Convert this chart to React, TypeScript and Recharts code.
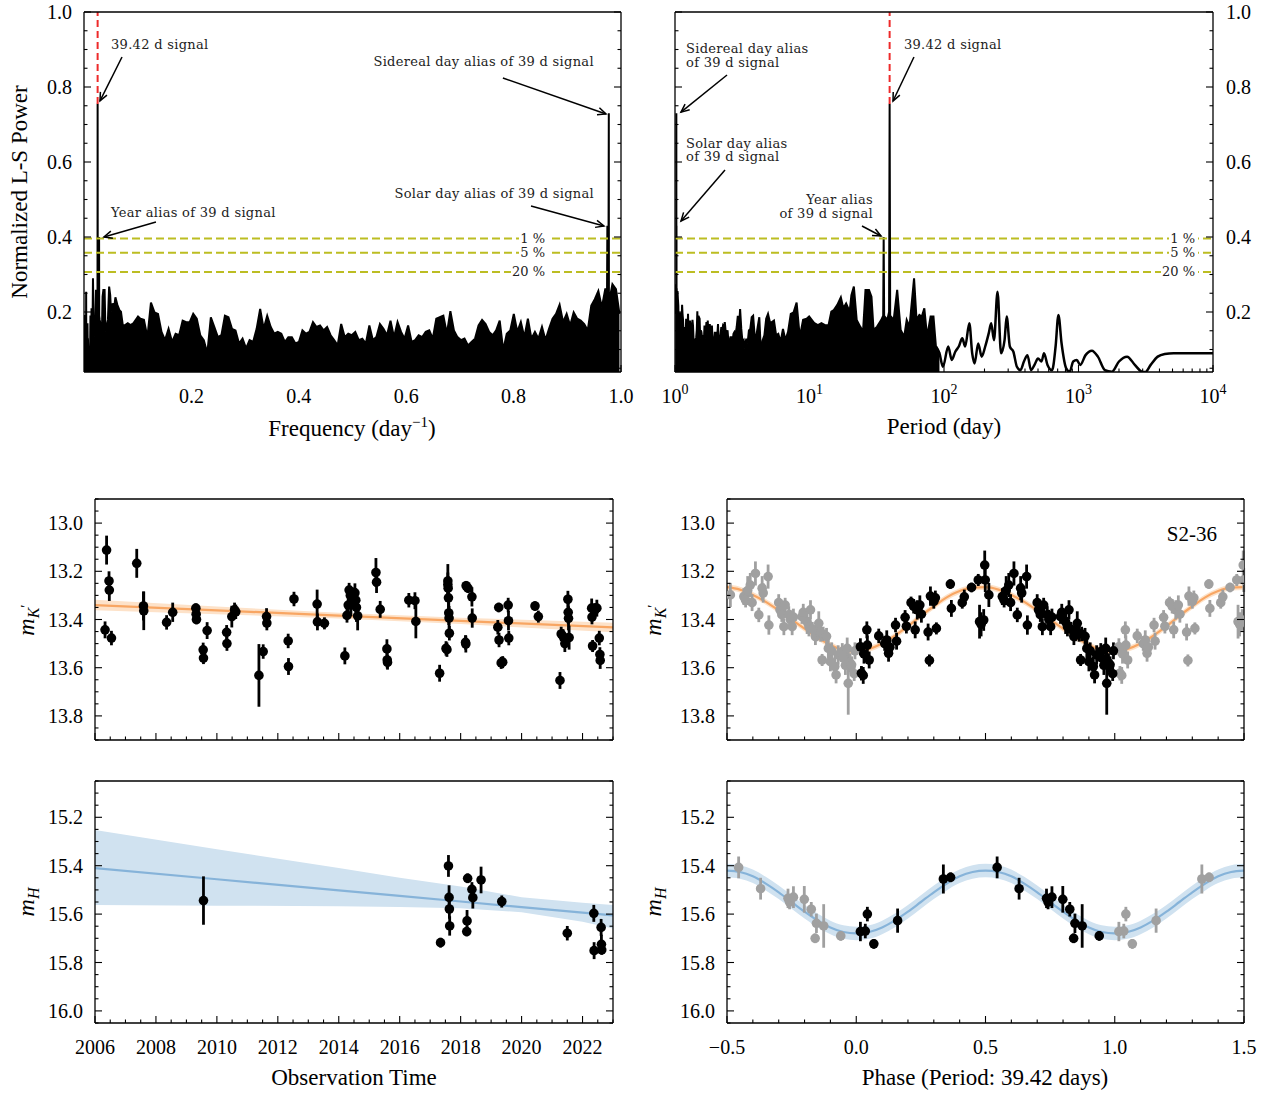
import React from 'react'
import { ComposedChart, XAxis, YAxis, Area, Line, Scatter, ErrorBar, ReferenceLine } from 'recharts'

const W = 1273
const H = 1093
const SERIF = '"Liberation Serif", "Times New Roman", serif'
const NOTE_FONT = '"DejaVu Serif", serif'

// ---------- Lomb-Scargle periodogram ----------
// power above 0.1 / day, read every ~0.0066 / day from the frequency panel
const denseFreqStart = 0.105
const denseFreqStep = 0.00656
const densePower = [
  0.182, 0.179, 0.133, 0.225, 0.199, 0.195, 0.147, 0.125, 0.155, 0.12,
  0.142, 0.138, 0.177, 0.173, 0.173, 0.195, 0.182, 0.138, 0.125, 0.09,
  0.186, 0.16, 0.133, 0.138, 0.19, 0.186, 0.155, 0.151, 0.116, 0.129,
  0.103, 0.125, 0.12, 0.155, 0.208, 0.155, 0.19, 0.16, 0.142, 0.147,
  0.142, 0.12, 0.133, 0.133, 0.116, 0.12, 0.151, 0.142, 0.147, 0.173,
  0.16, 0.164, 0.151, 0.16, 0.138, 0.125, 0.111, 0.168, 0.133, 0.142,
  0.138, 0.147, 0.125, 0.129, 0.116, 0.164, 0.125, 0.133, 0.168, 0.155,
  0.138, 0.177, 0.133, 0.173, 0.147, 0.129, 0.164, 0.12, 0.125, 0.138,
  0.133, 0.147, 0.151, 0.129, 0.182, 0.186, 0.19, 0.142, 0.202, 0.151,
  0.133, 0.125, 0.129, 0.111, 0.12, 0.129, 0.164, 0.179, 0.168, 0.147,
  0.138, 0.151, 0.177, 0.098, 0.142, 0.151, 0.195, 0.147, 0.173, 0.133,
  0.182, 0.129, 0.147, 0.129, 0.16, 0.125, 0.155, 0.182, 0.195, 0.219,
  0.173, 0.195, 0.164, 0.199, 0.182, 0.177, 0.168, 0.151, 0.217, 0.234,
  0.256, 0.212, 0.263, 0.234, 0.274, 0.261, 0.195,
]

// daily aliases of the 39 d signal near 1 / day
const aliasFreq = [0.9738, 0.9746, 0.9756, 0.9765, 0.9773, 0.9782]
const aliasPower = [0.2, 0.43, 0.21, 0.22, 0.73, 0.23]

// periods longer than 10 d
const longPeriod = [
  9.94, 10.88, 11.55, 12.27, 13.04, 13.85, 14.53, 15.16, 16.1, 17.1,
  17.84, 18.72, 19.88, 20.49, 21.37, 22.43, 23.82, 25.0, 26.08, 27.7,
  28.89, 29.95, 31.81, 34.2, 35.3, 35.6, 35.9, 37.88, 39.05, 39.42,
  39.8, 42.25, 44.86, 47.64, 50.6, 52.8, 55.4, 59.9, 62.5, 65.6,
  68.4, 71.4, 74.9, 79.5, 83.5, 87.1, 92.5, 98.2, 107.5, 114.2,
  121.3, 128.8, 136.8, 143.6, 154.3, 162, 168.9, 179.5, 190.6, 202.5,
  215, 224.3, 235.3, 250, 265.6, 282, 292.4, 308.7, 328, 348.4,
  370, 392.9, 417.4, 443.3, 470.9, 500, 531, 554, 588.3, 636.3,
  675.6, 709.1, 748.6, 809.8, 860.3, 913.4, 970.3, 1030.6, 1128, 1258,
  1393, 1572, 1774, 2000, 2297, 2623, 2960, 3143, 3441, 3882,
  4380, 5092, 10000,
]
const longPower = [
  0.188, 0.17, 0.165, 0.17, 0.165, 0.165, 0.201, 0.205, 0.219, 0.239,
  0.21, 0.223, 0.201, 0.245, 0.268, 0.179, 0.161, 0.148, 0.259, 0.259,
  0.241, 0.152, 0.161, 0.179, 0.19, 0.4, 0.19, 0.179, 0.2, 0.755,
  0.19, 0.179, 0.259, 0.152, 0.134, 0.179, 0.161, 0.29, 0.179, 0.192,
  0.188, 0.21, 0.134, 0.188, 0.188, 0.108, 0.09, 0.054, 0.108, 0.072,
  0.094, 0.108, 0.13, 0.108, 0.17, 0.09, 0.063, 0.116, 0.081, 0.108,
  0.143, 0.17, 0.125, 0.254, 0.09, 0.125, 0.188, 0.108, 0.094, 0.054,
  0.045, 0.068, 0.085, 0.045, 0.059, 0.076, 0.068, 0.09, 0.059, 0.045,
  0.108, 0.192, 0.116, 0.05, 0.041, 0.068, 0.072, 0.059, 0.085, 0.097,
  0.081, 0.045, 0.041, 0.068, 0.081, 0.059, 0.041, 0.04, 0.059, 0.081,
  0.088, 0.09, 0.09,
]

const signalPeriod = 39.42
const signalPower = 0.755
const fapLevels = [0.396, 0.358, 0.307]
const fapNames = ['1 %', '5 %', '20 %']

// ---------- K' photometry: [year, mag, err] ----------
const kTime: number[][] = [
  [2006.33, 13.443, 0.035], [2006.38, 13.112, 0.06], [2006.46, 13.24, 0.04], [2006.47, 13.278, 0.045],
  [2006.54, 13.477, 0.03], [2007.37, 13.167, 0.06], [2007.59, 13.344, 0.06], [2007.6, 13.364, 0.08],
  [2008.35, 13.412, 0.03], [2008.55, 13.37, 0.04], [2009.31, 13.353, 0.02], [2009.32, 13.378, 0.02],
  [2009.33, 13.4, 0.02], [2009.55, 13.526, 0.03], [2009.56, 13.56, 0.025], [2009.68, 13.446, 0.035],
  [2010.32, 13.453, 0.03], [2010.33, 13.5, 0.03], [2010.49, 13.388, 0.045], [2010.58, 13.36, 0.03],
  [2010.62, 13.368, 0.03], [2011.38, 13.632, 0.13], [2011.52, 13.533, 0.03], [2011.63, 13.388, 0.035],
  [2011.64, 13.415, 0.03], [2012.34, 13.489, 0.03], [2012.35, 13.595, 0.035], [2012.53, 13.315, 0.03],
  [2013.29, 13.336, 0.06], [2013.3, 13.41, 0.035], [2013.53, 13.416, 0.025], [2014.2, 13.551, 0.035],
  [2014.27, 13.383, 0.03], [2014.31, 13.34, 0.04], [2014.34, 13.278, 0.03], [2014.38, 13.3, 0.04],
  [2014.4, 13.336, 0.05], [2014.46, 13.307, 0.04], [2014.53, 13.29, 0.04], [2014.56, 13.32, 0.05],
  [2014.58, 13.35, 0.06], [2014.62, 13.385, 0.06], [2015.22, 13.205, 0.06], [2015.24, 13.245, 0.045],
  [2015.36, 13.358, 0.035], [2015.58, 13.522, 0.04], [2015.59, 13.568, 0.035], [2015.6, 13.578, 0.03],
  [2016.3, 13.32, 0.03], [2016.5, 13.322, 0.035], [2016.53, 13.408, 0.07], [2017.31, 13.623, 0.035],
  [2017.52, 13.52, 0.03], [2017.55, 13.525, 0.03], [2017.58, 13.24, 0.07], [2017.58, 13.255, 0.05],
  [2017.59, 13.27, 0.05], [2017.6, 13.31, 0.05], [2017.61, 13.373, 0.05], [2017.62, 13.394, 0.05],
  [2017.63, 13.457, 0.03], [2018.16, 13.495, 0.03], [2018.17, 13.502, 0.035], [2018.18, 13.26, 0.02],
  [2018.24, 13.27, 0.02], [2018.37, 13.306, 0.04], [2018.38, 13.394, 0.04], [2019.22, 13.432, 0.03],
  [2019.25, 13.35, 0.02], [2019.26, 13.485, 0.03], [2019.33, 13.58, 0.025], [2019.38, 13.577, 0.025],
  [2019.56, 13.34, 0.03], [2019.57, 13.405, 0.04], [2019.58, 13.477, 0.03], [2020.44, 13.344, 0.02],
  [2020.55, 13.388, 0.025], [2021.26, 13.653, 0.035], [2021.3, 13.46, 0.03], [2021.36, 13.47, 0.03],
  [2021.42, 13.5, 0.035], [2021.52, 13.316, 0.035], [2021.53, 13.37, 0.05], [2021.54, 13.395, 0.05],
  [2021.56, 13.475, 0.05], [2022.3, 13.353, 0.04], [2022.31, 13.39, 0.03], [2022.33, 13.51, 0.025],
  [2022.4, 13.362, 0.03], [2022.47, 13.353, 0.035], [2022.55, 13.477, 0.03], [2022.57, 13.545, 0.03],
  [2022.58, 13.57, 0.035],
]

// K' folded on 39.42 d: [phase, mag, err]
const kPhase: number[][] = [
  [0.016, 13.513, 0.035], [0.02, 13.623, 0.03], [0.027, 13.632, 0.035], [0.03, 13.543, 0.04],
  [0.041, 13.443, 0.035], [0.043, 13.506, 0.04], [0.05, 13.568, 0.035], [0.087, 13.468, 0.03],
  [0.11, 13.5, 0.03], [0.118, 13.485, 0.04], [0.125, 13.54, 0.035], [0.13, 13.515, 0.03],
  [0.152, 13.423, 0.03], [0.156, 13.49, 0.035], [0.189, 13.391, 0.03], [0.194, 13.428, 0.03],
  [0.212, 13.33, 0.025], [0.222, 13.345, 0.03], [0.228, 13.443, 0.035], [0.236, 13.36, 0.04],
  [0.246, 13.34, 0.04], [0.252, 13.378, 0.035], [0.278, 13.452, 0.035], [0.283, 13.57, 0.025],
  [0.287, 13.303, 0.04], [0.3, 13.325, 0.03], [0.306, 13.31, 0.03], [0.31, 13.437, 0.025],
  [0.364, 13.253, 0.02], [0.368, 13.354, 0.035], [0.41, 13.33, 0.025], [0.418, 13.306, 0.03],
  [0.446, 13.267, 0.02], [0.472, 13.236, 0.025], [0.477, 13.409, 0.07], [0.483, 13.42, 0.05],
  [0.497, 13.174, 0.06], [0.499, 13.236, 0.05], [0.493, 13.402, 0.045], [0.513, 13.298, 0.05],
  [0.565, 13.305, 0.035], [0.572, 13.32, 0.03], [0.58, 13.28, 0.06], [0.59, 13.257, 0.05],
  [0.597, 13.33, 0.035], [0.61, 13.209, 0.05], [0.623, 13.381, 0.03], [0.636, 13.27, 0.05],
  [0.64, 13.29, 0.04], [0.659, 13.222, 0.05], [0.662, 13.423, 0.04], [0.7, 13.33, 0.035],
  [0.705, 13.36, 0.03], [0.712, 13.38, 0.03], [0.72, 13.43, 0.035], [0.725, 13.34, 0.03],
  [0.739, 13.38, 0.035], [0.745, 13.4, 0.04], [0.752, 13.43, 0.035], [0.757, 13.39, 0.035],
  [0.79, 13.388, 0.03], [0.795, 13.37, 0.035], [0.81, 13.41, 0.05], [0.817, 13.43, 0.04],
  [0.823, 13.36, 0.04], [0.83, 13.44, 0.03], [0.842, 13.471, 0.035], [0.848, 13.45, 0.04],
  [0.855, 13.416, 0.05], [0.862, 13.457, 0.035], [0.868, 13.568, 0.025], [0.872, 13.46, 0.03],
  [0.885, 13.47, 0.035], [0.892, 13.52, 0.04], [0.9, 13.575, 0.04], [0.905, 13.53, 0.035],
  [0.917, 13.595, 0.04], [0.922, 13.63, 0.035], [0.93, 13.547, 0.04], [0.946, 13.533, 0.035],
  [0.95, 13.56, 0.04], [0.958, 13.59, 0.04], [0.965, 13.52, 0.045], [0.969, 13.665, 0.13],
  [0.976, 13.58, 0.04], [0.982, 13.588, 0.035], [0.992, 13.625, 0.03], [0.995, 13.53, 0.035],
]

// ---------- H photometry ----------
const hTime: number[][] = [
  [2009.56, 15.544, 0.1], [2017.34, 15.718, 0.02], [2017.6, 15.401, 0.045], [2017.62, 15.531, 0.05],
  [2017.63, 15.579, 0.04], [2017.64, 15.649, 0.04], [2018.2, 15.672, 0.02], [2018.21, 15.628, 0.045],
  [2018.23, 15.452, 0.02], [2018.37, 15.498, 0.03], [2018.4, 15.532, 0.045], [2018.67, 15.459, 0.055],
  [2019.35, 15.548, 0.025], [2021.5, 15.679, 0.03], [2022.37, 15.597, 0.035], [2022.38, 15.751, 0.035],
  [2022.61, 15.655, 0.035], [2022.62, 15.725, 0.04], [2022.63, 15.748, 0.02],
]
const hPhase: number[][] = [
  [0.016, 15.672, 0.04], [0.035, 15.67, 0.03], [0.043, 15.6, 0.03], [0.068, 15.723, 0.02],
  [0.16, 15.627, 0.05], [0.337, 15.455, 0.06], [0.365, 15.448, 0.02], [0.545, 15.407, 0.045],
  [0.63, 15.495, 0.045], [0.736, 15.535, 0.04], [0.742, 15.55, 0.03], [0.757, 15.53, 0.045],
  [0.799, 15.539, 0.055], [0.826, 15.58, 0.03], [0.841, 15.7, 0.02], [0.846, 15.638, 0.04],
  [0.874, 15.649, 0.09], [0.94, 15.69, 0.02],
]

// linear trends with their uncertainty bands
const kTrendYear = [2006, 2010, 2014, 2018, 2023]
const kTrendMag = [13.34, 13.362, 13.384, 13.406, 13.433]
const kTrendLo = [13.318, 13.346, 13.372, 13.393, 13.413]
const kTrendHi = [13.362, 13.378, 13.396, 13.419, 13.453]

const hTrendYear = [2006, 2010, 2014, 2016, 2018, 2020, 2022, 2023]
const hTrendMag = [15.41, 15.456, 15.502, 15.525, 15.548, 15.571, 15.594, 15.605]
const hTrendLo = [15.252, 15.332, 15.41, 15.45, 15.486, 15.53, 15.553, 15.562]
const hTrendHi = [15.562, 15.565, 15.568, 15.571, 15.576, 15.592, 15.632, 15.66]

// sinusoidal models over one cycle
const modelPhase = [0, 0.05, 0.1, 0.15, 0.2, 0.25, 0.3, 0.35, 0.4, 0.45, 0.5, 0.55, 0.6, 0.65, 0.7, 0.75, 0.8, 0.85, 0.9, 0.95, 1.0]
const kModelMag = [13.532, 13.522, 13.5, 13.467, 13.428, 13.385, 13.345, 13.308, 13.282, 13.268, 13.266, 13.276, 13.298, 13.327, 13.362, 13.4, 13.438, 13.475, 13.505, 13.527, 13.532]
const hModelMag = [15.68, 15.674, 15.655, 15.626, 15.59, 15.55, 15.51, 15.474, 15.444, 15.426, 15.42, 15.426, 15.444, 15.474, 15.51, 15.55, 15.59, 15.626, 15.655, 15.674, 15.68]
const kModelBand = 0.012
const hModelBand = 0.028

// ---------- ticks ----------
const range = (a: number, b: number, s: number) => {
  const out: number[] = []
  for (let i = 0; a + i * s <= b + 1e-9; i++) out.push(+(a + i * s).toFixed(6))
  return out
}
const freqMajors = [0.2, 0.4, 0.6, 0.8, 1.0]
const powerMajors = [0.2, 0.4, 0.6, 0.8, 1.0]
const periodMajors = [1, 10, 100, 1000, 10000]
const periodTicks = [1, 10, 100, 1000].flatMap((d) => [1, 2, 3, 4, 5, 6, 7, 8, 9].map((m) => m * d)).concat([10000])
const yearMajors = [2006, 2008, 2010, 2012, 2014, 2016, 2018, 2020, 2022]
const kMajors = [13.0, 13.2, 13.4, 13.6, 13.8]
const hMajors = [15.2, 15.4, 15.6, 15.8, 16.0]
const phaseMajors = [-0.5, 0, 0.5, 1.0, 1.5]

// ---------- derived series ----------
const spectrum = [
  ...longPeriod.map((p, i) => ({ f: 1 / p, p: longPower[i] })),
  ...densePower.map((p, i) => ({ f: denseFreqStart + i * denseFreqStep, p })),
  ...aliasFreq.map((f, i) => ({ f, p: aliasPower[i] })),
].sort((a, b) => a.f - b.f)
const freqData = spectrum.map((d) => ({ x: d.f, y: d.p }))
const periodData = spectrum
  .map((d) => ({ x: 1 / d.f, y: d.p }))
  .filter((d) => d.x >= 1 && d.x <= 10000)
  .sort((a, b) => a.x - b.x)
const periodDense = periodData.filter((d) => d.x <= 92.6)
const periodSmooth = periodData.filter((d) => d.x >= 87)

const pts = (rows: number[][]) => rows.map(([x, y, e]) => ({ x, y, e }))
const folded = (rows: number[][]) =>
  rows.map(([x, y, e]) => ({ x: x < 0.5 ? x + 1 : x - 1, y, e })).filter((d) => d.x >= -0.5 && d.x <= 1.5)
const trend = (xs: number[], ys: number[], lo: number[], hi: number[]) =>
  xs.map((x, i) => ({ x, y: ys[i], band: [lo[i], hi[i]] }))
const model = (mags: number[], half: number) =>
  [-1, 0, 1]
    .flatMap((s, k) => modelPhase.map((p, i) => ({ x: +(p + s).toFixed(3), y: mags[i], band: [mags[i] - half, mags[i] + half], skip: k > 0 && i === 0 })))
    .filter((d) => !d.skip && d.x >= -0.5 && d.x <= 1.5)

// ---------- styling helpers ----------
const ORANGE_LINE = '#f8a663'
const ORANGE_BAND = '#fde2c9'
const BLUE_LINE = '#86b3d9'
const BLUE_BAND = '#d0e2f0'
const OLIVE = '#bcbd22'
const RED = '#ee2a2a'
const GRAY = '#a0a0a0'
const spine = { stroke: '#000', strokeWidth: 1.3 }

type Side = 'bottom' | 'top' | 'left' | 'right'

function makeTick(side: Side, majors: number[], fmt?: (v: number) => React.ReactNode) {
  return (p: any) => {
    const v = Number(p.payload?.value)
    const major = majors.some((m) => Math.abs(m - v) < 1e-6)
    const len = major ? 7 : 3.5
    const { x, y } = p
    let x2 = x
    let y2 = y
    if (side === 'bottom') y2 = y - len
    if (side === 'top') y2 = y + len
    if (side === 'left') x2 = x + len
    if (side === 'right') x2 = x - len
    let label: React.ReactNode = null
    if (major && fmt) {
      const t = { fontFamily: SERIF, fontSize: 20, fill: '#000' }
      if (side === 'bottom') label = <text x={x} y={y + 31} textAnchor="middle" {...t}>{fmt(v)}</text>
      if (side === 'left') label = <text x={x - 12} y={y + 7} textAnchor="end" {...t}>{fmt(v)}</text>
      if (side === 'right') label = <text x={x + 13} y={y + 7} textAnchor="start" {...t}>{fmt(v)}</text>
    }
    return (
      <g>
        <line x1={x} y1={y} x2={x2} y2={y2} stroke="#000" strokeWidth={1.1} />
        {label}
      </g>
    )
  }
}

const dec1 = (v: number) => (v < 0 ? '\u2212' + Math.abs(v).toFixed(1) : v.toFixed(1))
const yearFmt = (v: number) => String(v)
const powFmt = (v: number) => (
  <>
    <tspan>10</tspan>
    <tspan dy={-9} fontSize={14}>{Math.round(Math.log10(v))}</tspan>
  </>
)

type FrameOpts = {
  xDomain: [number, number]
  yDomain: [number, number]
  xTicks: number[]
  xMajors: number[]
  yTicks: number[]
  yMajors: number[]
  xFmt?: (v: number) => React.ReactNode
  yFmt?: (v: number) => React.ReactNode
  yLabelRight?: boolean
  xLog?: boolean
  reversed?: boolean
}

// axes are 1px thick boxes so that Recharts draws them; the margins absorb that pixel
function frame(o: FrameOpts) {
  const common = {
    allowDataOverflow: true,
    tickLine: false,
    tickSize: 0,
    tickMargin: 0,
    interval: 0 as const,
    axisLine: spine,
    type: 'number' as const,
  }
  const xs = o.xLog ? ('log' as const) : ('linear' as const)
  return [
    <XAxis key="xb" xAxisId={0} dataKey="x" orientation="bottom" height={1} scale={xs} domain={o.xDomain}
      ticks={o.xTicks} tick={makeTick('bottom', o.xMajors, o.xFmt)} {...common} />,
    <XAxis key="xt" xAxisId="t" orientation="top" height={1} scale={xs} domain={o.xDomain}
      ticks={o.xTicks} tick={makeTick('top', o.xMajors)} {...common} />,
    <YAxis key="yl" yAxisId={0} dataKey="y" orientation="left" width={1} domain={o.yDomain} reversed={o.reversed}
      ticks={o.yTicks} tick={makeTick('left', o.yMajors, o.yLabelRight ? undefined : o.yFmt)} {...common} />,
    <YAxis key="yr" yAxisId="r" orientation="right" width={1} domain={o.yDomain} reversed={o.reversed}
      ticks={o.yTicks} tick={makeTick('right', o.yMajors, o.yLabelRight ? o.yFmt : undefined)} {...common} />,
  ]
}

function Panel({ rect, children }: { rect: [number, number, number, number]; children: React.ReactNode }) {
  const [l, t, r, b] = rect
  return (
    <div style={{ position: 'absolute', left: 0, top: 0 }}>
      <ComposedChart width={W} height={H} margin={{ left: l - 1, top: t - 1, right: W - r - 1, bottom: H - b - 1 }}>
        {children}
      </ComposedChart>
    </div>
  )
}

function arrowShape(lines: string[], dx: number, dy: number, anchor: 'start' | 'end') {
  return (p: any) => {
    const { x1, y1, x2, y2 } = p
    const ang = Math.atan2(y2 - y1, x2 - x1)
    const h = 9
    const s = 0.42
    const a1 = `${x2 - h * Math.cos(ang - s)},${y2 - h * Math.sin(ang - s)}`
    const a2 = `${x2 - h * Math.cos(ang + s)},${y2 - h * Math.sin(ang + s)}`
    return (
      <g>
        <line x1={x1} y1={y1} x2={x2} y2={y2} stroke="#000" strokeWidth={1.5} />
        <polyline points={`${a1} ${x2},${y2} ${a2}`} fill="none" stroke="#000" strokeWidth={1.5} />
        <text x={x1 + dx} y={y1 + dy} textAnchor={anchor} fontFamily={NOTE_FONT} fontSize={13} letterSpacing={0.3} fill="#222">
          {lines.map((t, i) => (
            <tspan key={i} x={x1 + dx} dy={i ? 13.5 : 0}>{t}</tspan>
          ))}
        </text>
      </g>
    )
  }
}

type Note = { from: [number, number]; to: [number, number]; lines: string[]; dx: number; dy: number; anchor: 'start' | 'end' }

const freqNotes: Note[] = [
  { from: [0.0708, 0.88], to: [0.0298, 0.763], lines: ['39.42 d signal'], dx: -11, dy: -8, anchor: 'start' },
  { from: [0.134, 0.44], to: [0.0372, 0.4], lines: ['Year alias of 39 d signal'], dx: -45, dy: -5, anchor: 'start' },
  { from: [0.78, 0.824], to: [0.972, 0.728], lines: ['Sidereal day alias of 39 d signal'], dx: 91, dy: -12, anchor: 'end' },
  { from: [0.8324, 0.4827], to: [0.9683, 0.4293], lines: ['Solar day alias of 39 d signal'], dx: 63, dy: -8, anchor: 'end' },
]
const periodNotes: Note[] = [
  { from: [2.436, 0.832], to: [1.108, 0.733], lines: ['Sidereal day alias', 'of 39 d signal'], dx: -41, dy: -22, anchor: 'start' },
  { from: [2.354, 0.5787], to: [1.108, 0.4427], lines: ['Solar day alias', 'of 39 d signal'], dx: -39, dy: -22, anchor: 'start' },
  { from: [24.56, 0.4293], to: [34.0, 0.4027], lines: ['Year alias', 'of 39 d signal'], dx: 11, dy: -22, anchor: 'end' },
  { from: [59.8, 0.88], to: [41.77, 0.7627], lines: ['39.42 d signal'], dx: -10, dy: -8, anchor: 'start' },
]

const notes = (list: Note[]) =>
  list.map((n, i) => (
    <ReferenceLine key={'n' + i} ifOverflow="visible"
      segment={[{ x: n.from[0], y: n.from[1] }, { x: n.to[0], y: n.to[1] }]}
      shape={arrowShape(n.lines, n.dx, n.dy, n.anchor)} />
  ))

const fapLines = (inset: number) =>
  fapLevels.map((lvl, i) => (
    <ReferenceLine key={'fap' + i} y={lvl} stroke={OLIVE} strokeWidth={2} strokeDasharray="8 4"
      label={(p: any) => {
        const vb = p.viewBox
        const xr = vb.x + vb.width - inset
        const w = fapNames[i].length * 8 + 2
        return (
          <g>
            <rect x={xr - w} y={vb.y - 7} width={w + 3} height={14} fill="#fff" />
            <text x={xr} y={vb.y + 4.5} textAnchor="end" fontFamily={NOTE_FONT} fontSize={13} fill="#222">{fapNames[i]}</text>
          </g>
        )
      }} />
  ))

const pointShape = (fill: string) => (p: any) => <circle cx={p.cx} cy={p.cy} r={4.8} fill={fill} />

function points(data: any[], color: string, key: string) {
  return (
    <Scatter key={key} data={data} dataKey="y" isAnimationActive={false} shape={pointShape(color)}>
      <ErrorBar dataKey="e" direction="y" width={0} stroke={color} strokeWidth={2.8} />
    </Scatter>
  )
}

export default function App() {
  const freqTicks = range(0.05, 1.0, 0.05)
  const powerTicks = range(0.05, 1.0, 0.05)
  const yearTicks = range(2006, 2023, 0.5)
  const kTicks = range(12.9, 13.9, 0.05)
  const hTicks = range(15.05, 16.05, 0.05)
  const phaseTicks = range(-0.5, 1.5, 0.1)

  const kModel = model(kModelMag, kModelBand)
  const hModel = model(hModelMag, hModelBand)
  const kTrend = trend(kTrendYear, kTrendMag, kTrendLo, kTrendHi)
  const hTrend = trend(hTrendYear, hTrendMag, hTrendLo, hTrendHi)

  return (
    <div style={{ position: 'absolute', left: 0, top: 0, width: W, height: H, background: '#fff' }}>
      {/* periodogram vs frequency */}
      <Panel rect={[84, 12, 621, 372]}>
        {frame({ xDomain: [0, 1], yDomain: [0.04, 1], xTicks: freqTicks, xMajors: freqMajors, yTicks: powerTicks, yMajors: powerMajors, xFmt: dec1, yFmt: dec1 })}
        <Area data={freqData} dataKey="y" type="linear" fill="#000" fillOpacity={1} stroke="#000" strokeWidth={2} strokeLinejoin="miter" dot={false} activeDot={false} isAnimationActive={false} />
        {fapLines(76)}
        <ReferenceLine segment={[{ x: 1 / signalPeriod, y: signalPower }, { x: 1 / signalPeriod, y: 1 }]} stroke={RED} strokeWidth={2} strokeDasharray="7 4" />
        {notes(freqNotes)}
      </Panel>

      {/* periodogram vs period */}
      <Panel rect={[675, 12, 1213, 372]}>
        {frame({ xDomain: [1, 10000], yDomain: [0.04, 1], xTicks: periodTicks, xMajors: periodMajors, yTicks: powerTicks, yMajors: powerMajors, xFmt: powFmt, yFmt: dec1, yLabelRight: true, xLog: true })}
        <Area data={periodDense} dataKey="y" type="linear" fill="#000" fillOpacity={1} stroke="#000" strokeWidth={2} strokeLinejoin="miter" dot={false} activeDot={false} isAnimationActive={false} />
        <Line data={periodSmooth} dataKey="y" type="monotone" stroke="#000" strokeWidth={2.5} dot={false} activeDot={false} isAnimationActive={false} />
        {fapLines(18)}
        <ReferenceLine segment={[{ x: signalPeriod, y: signalPower }, { x: signalPeriod, y: 1 }]} stroke={RED} strokeWidth={2} strokeDasharray="7 4" />
        {notes(periodNotes)}
      </Panel>

      {/* K' vs time */}
      <Panel rect={[95, 499, 613, 740]}>
        {frame({ xDomain: [2006, 2023], yDomain: [12.9, 13.9], xTicks: yearTicks, xMajors: yearMajors, yTicks: kTicks, yMajors: kMajors, yFmt: dec1, reversed: true })}
        <Area data={kTrend} dataKey="band" type="linear" fill={ORANGE_BAND} fillOpacity={1} stroke="none" isAnimationActive={false} />
        <Line data={kTrend} dataKey="y" type="linear" stroke={ORANGE_LINE} strokeWidth={2.2} dot={false} isAnimationActive={false} />
        {points(pts(kTime), '#000', 'k')}
      </Panel>

      {/* K' vs phase */}
      <Panel rect={[727, 499, 1244, 740]}>
        {frame({ xDomain: [-0.5, 1.5], yDomain: [12.9, 13.9], xTicks: phaseTicks, xMajors: phaseMajors, yTicks: kTicks, yMajors: kMajors, yFmt: dec1, reversed: true })}
        <Area data={kModel} dataKey="band" type="monotone" fill={ORANGE_BAND} fillOpacity={1} stroke="none" isAnimationActive={false} />
        <Line data={kModel} dataKey="y" type="monotone" stroke={ORANGE_LINE} strokeWidth={2.2} dot={false} isAnimationActive={false} />
        {points(folded(kPhase), GRAY, 'kg')}
        {points(pts(kPhase), '#000', 'kb')}
      </Panel>

      {/* H vs time */}
      <Panel rect={[95, 781, 613, 1023]}>
        {frame({ xDomain: [2006, 2023], yDomain: [15.05, 16.05], xTicks: yearTicks, xMajors: yearMajors, yTicks: hTicks, yMajors: hMajors, xFmt: yearFmt, yFmt: dec1, reversed: true })}
        <Area data={hTrend} dataKey="band" type="linear" fill={BLUE_BAND} fillOpacity={1} stroke="none" isAnimationActive={false} />
        <Line data={hTrend} dataKey="y" type="linear" stroke={BLUE_LINE} strokeWidth={2.2} dot={false} isAnimationActive={false} />
        {points(pts(hTime), '#000', 'h')}
      </Panel>

      {/* H vs phase */}
      <Panel rect={[727, 781, 1244, 1023]}>
        {frame({ xDomain: [-0.5, 1.5], yDomain: [15.05, 16.05], xTicks: phaseTicks, xMajors: phaseMajors, yTicks: hTicks, yMajors: hMajors, xFmt: dec1, yFmt: dec1, reversed: true })}
        <Area data={hModel} dataKey="band" type="monotone" fill={BLUE_BAND} fillOpacity={1} stroke="none" isAnimationActive={false} />
        <Line data={hModel} dataKey="y" type="monotone" stroke={BLUE_LINE} strokeWidth={2.2} dot={false} isAnimationActive={false} />
        {points(folded(hPhase), GRAY, 'hg')}
        {points(pts(hPhase), '#000', 'hb')}
      </Panel>

      {/* titles */}
      <svg width={W} height={H} style={{ position: 'absolute', left: 0, top: 0, pointerEvents: 'none' }} fontFamily={SERIF} fill="#000">
        <text x={352} y={436} textAnchor="middle" fontSize={23}>
          Frequency (day<tspan dy={-9} fontSize={15}>{'\u22121'}</tspan><tspan dy={9}>)</tspan>
        </text>
        <text x={944} y={434} textAnchor="middle" fontSize={23}>Period (day)</text>
        <text x={354} y={1085} textAnchor="middle" fontSize={23}>Observation Time</text>
        <text x={985} y={1085} textAnchor="middle" fontSize={23}>Phase (Period: 39.42 days)</text>
        <text transform="translate(27,192) rotate(-90)" textAnchor="middle" fontSize={23}>Normalized L-S Power</text>
        {[[34, 620], [661, 620]].map(([x, y], i) => (
          <text key={'mk' + i} transform={`translate(${x},${y}) rotate(-90)`} textAnchor="middle" fontSize={24}>
            <tspan fontStyle="italic">m</tspan>
            <tspan fontStyle="italic" fontSize={16} dy={5}>K</tspan>
            <tspan fontSize={15} dy={-8}>{'\u2032'}</tspan>
          </text>
        ))}
        {[[34, 902], [661, 902]].map(([x, y], i) => (
          <text key={'mh' + i} transform={`translate(${x},${y}) rotate(-90)`} textAnchor="middle" fontSize={24}>
            <tspan fontStyle="italic">m</tspan>
            <tspan fontStyle="italic" fontSize={16} dy={5}>H</tspan>
          </text>
        ))}
        <text x={1217} y={541} textAnchor="end" fontSize={21}>S2-36</text>
      </svg>
    </div>
  )
}
